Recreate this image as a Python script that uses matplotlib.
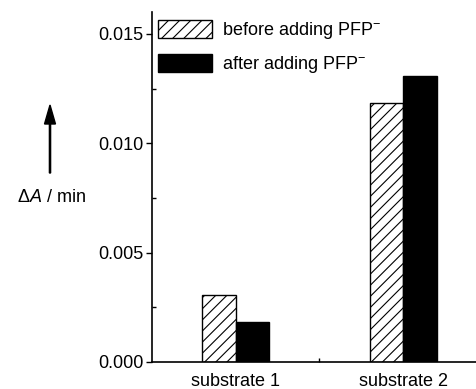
import matplotlib
matplotlib.use("Agg")
import matplotlib.pyplot as plt
from matplotlib.ticker import MultipleLocator, FixedLocator
import numpy as np

categories = ["substrate 1", "substrate 2"]
before = [0.00306, 0.01183]
after = [0.00184, 0.01306]
series_labels = ["before adding PFP$^{-}$", "after adding PFP$^{-}$"]
yticks = [0.000, 0.005, 0.010, 0.015]
ytick_labels = ["0.000", "0.005", "0.010", "0.015"]

plt.rcParams['font.family'] = ['Liberation Sans', 'DejaVu Sans']
plt.rcParams['mathtext.fontset'] = 'custom'
plt.rcParams['mathtext.rm'] = 'Liberation Sans'
plt.rcParams['mathtext.it'] = 'Liberation Sans:italic'
plt.rcParams['hatch.linewidth'] = 0.8

FS = 13

fig = plt.figure(figsize=(4.76, 3.89), dpi=100)
ax = fig.add_axes([152/476, 27/389, 335/476, 350/389])

x = np.arange(1, len(categories) + 1)
w = 0.2
ax.bar(x - w/2, before, width=w, facecolor='white', edgecolor='black',
       hatch='///', linewidth=1.0, label=series_labels[0])
ax.bar(x + w/2, after, width=w, facecolor='black', edgecolor='black',
       linewidth=1.0, label=series_labels[1])

ax.set_xlim(0.5, 2.5)
ax.set_ylim(0, 0.016)
ax.spines['top'].set_visible(False)
ax.spines['right'].set_visible(False)
for s in ('left', 'bottom'):
    ax.spines[s].set_linewidth(1.2)

ax.set_xticks(x)
ax.set_xticklabels(categories, fontsize=FS)
ax.xaxis.set_minor_locator(FixedLocator([1.5]))
ax.tick_params(axis='x', which='major', length=0, pad=8)
ax.tick_params(axis='x', which='minor', direction='in', length=3, width=1)

ax.set_yticks(yticks)
ax.set_yticklabels(ytick_labels, fontsize=FS)
ax.yaxis.set_minor_locator(MultipleLocator(0.0025))
ax.tick_params(axis='y', which='major', direction='out', length=4, width=1, pad=2)
ax.tick_params(axis='y', which='minor', direction='in', length=3, width=1)

leg = ax.legend(loc='upper left', bbox_to_anchor=(0.018, 0.978), frameon=False,
                fontsize=FS, handlelength=3.0, handleheight=1.16,
                handletextpad=0.55, labelspacing=0.72, borderpad=0, borderaxespad=0)

# arrow and y label
fig.patches.append(matplotlib.patches.FancyArrow(
    50/476, 1 - 173/389, 0, (173-105)/389, width=0.0025, head_width=0.023,
    head_length=19/389, length_includes_head=True, color='black',
    transform=fig.transFigure, figure=fig))
fig.text(51/476, 1 - 198/389, r"$\Delta A$ / min", ha='center', va='center', fontsize=FS)

fig.savefig("out.png", dpi=100)
